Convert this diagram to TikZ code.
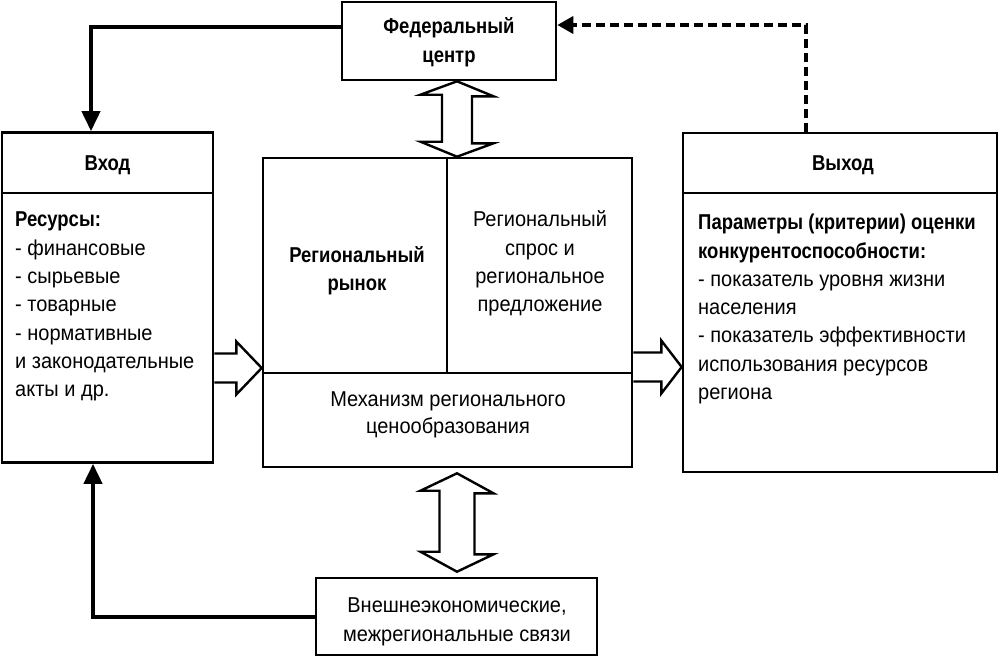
\documentclass[tikz,border=0pt]{standalone}
\usepackage{fontspec}
\setmainfont{Liberation Sans}[FakeStretch=0.93, BoldFeatures={FakeStretch=0.86}]
\usetikzlibrary{arrows.meta,calc}
\tikzset{
  box/.style={draw, line width=2.6pt, fill=white, inner sep=0pt},
  divider/.style={line width=2pt},
  conn/.style={line width=4pt, -{Triangle[width=18pt,length=20pt]}},
  dconn/.style={line width=3.5pt, dash pattern=on 9pt off 5pt, -{Triangle[width=17pt,length=16pt]}},
  fat/.style={draw, line width=2.4pt, fill=white, line join=miter},
  txt/.style={inner sep=0pt, font=\fontsize{21.5}{28.3}\selectfont},
  btxt/.style={txt, font=\fontsize{21.5}{28.3}\selectfont\bfseries},
}
\begin{document}
\begin{tikzpicture}[x=1pt,y=-1pt]
\useasboundingbox (0,0) rectangle (1000,659);
% boxes
\node[box, minimum width=214pt, minimum height=78pt] (fed) at (449,41) {};
\node[box, minimum width=211pt, minimum height=330pt] (vhod) at (107.5,297.5) {};
\node[box, minimum width=369pt, minimum height=309pt] (mkt) at (447.5,312.5) {};
\node[box, minimum width=314pt, minimum height=339pt] (vyh) at (840,302.5) {};
\node[box, minimum width=281pt, minimum height=77pt] (bot) at (456.5,616.5) {};
% dividers
\coordinate (d1) at (0,193);
\coordinate (d2) at (0,373);
\coordinate (d3) at (447,0);
\draw[divider] (vhod.west |- d1) -- (vhod.east |- d1);
\draw[divider] (vyh.west |- d1) -- (vyh.east |- d1);
\draw[divider] (mkt.west |- d2) -- (mkt.east |- d2);
\draw[divider] (mkt.north -| d3) -- (d3 |- d2);
% texts
\node[btxt, align=center, font=\fontsize{21.5}{29}\selectfont\bfseries] (tfed) at (449,42) {Федеральный\\центр};
\node[btxt] (tvhod) at (107.5,165) {Вход};
\node[btxt] (tvyh) at (843,165) {Выход};
\node[txt, align=left, anchor=north west] (tres) at (15,212) {\textbf{Ресурсы:}\\- финансовые\\- сырьевые\\- товарные\\- нормативные\\и законодательные\\акты и др.};
\node[txt, align=left, anchor=north west] (tpar) at (698,214) {\textbf{Параметры (критерии) оценки}\\\textbf{конкурентоспособности:}\\- показатель уровня жизни\\населения\\- показатель эффективности\\использования ресурсов\\региона};
\node[btxt, align=center] (tmkt) at (357,271) {Региональный\\рынок};
\node[txt, align=center] (tdem) at (540,263.5) {Региональный\\спрос и\\региональное\\предложение};
\node[txt, align=center, font=\fontsize{21.5}{27}\selectfont] (tmech) at (448,415) {Механизм регионального\\ценообразования};
\node[txt, align=center, font=\fontsize{21.5}{29}\selectfont] (tbot) at (457,621.5) {Внешнеэкономические,\\межрегиональные связи};
% connectors
\coordinate (k1) at (91,27);
\draw[conn] (fed.west |- k1) -- (k1) -- (k1 |- vhod.north);
\coordinate (k2) at (93,617);
\draw[conn] (bot.west |- k2) -- (k2) -- (k2 |- vhod.south);
\coordinate (k3) at (806,25);
\draw[dconn] (vyh.north -| k3) -- (k3) -- (fed.east |- k3);
% fat arrows
\coordinate (a1) at (0,368);
\draw[fat] ($(vhod.east |- a1)+(0,-14.5)$) -- ++(22,0) -- ++(0,-12) -- (mkt.west |- a1) -- ($(vhod.east |- a1)+(22,26.5)$) -- ++(0,-12) -- ++(-22,0);
\coordinate (a2) at (0,367);
\draw[fat] ($(mkt.east |- a2)+(0,-14.5)$) -- ++(28,0) -- ++(0,-12) -- (vyh.west |- a2) -- ($(mkt.east |- a2)+(28,26.5)$) -- ++(0,-12) -- ++(-28,0);
\coordinate (a3) at (457,0);
\draw[fat] (a3 |- fed.south) -- ++(36.5,15) -- ++(-21.5,0) -- ++(0,47) -- ++(21.5,0) -- (a3 |- mkt.north) -- ++(-36.5,-15) -- ++(21.5,0) -- ++(0,-47) -- ++(-21.5,0) -- cycle;
\draw[fat] ($(a3 |- mkt.south)+(0,5)$) -- ++(36.5,20) -- ++(-19,0) -- ++(0,61) -- ++(19,0) -- ($(a3 |- bot.north)+(0,-5)$) -- ++(-36.5,-20) -- ++(19,0) -- ++(0,-61) -- ++(-19,0) -- cycle;
\end{tikzpicture}
\end{document}
